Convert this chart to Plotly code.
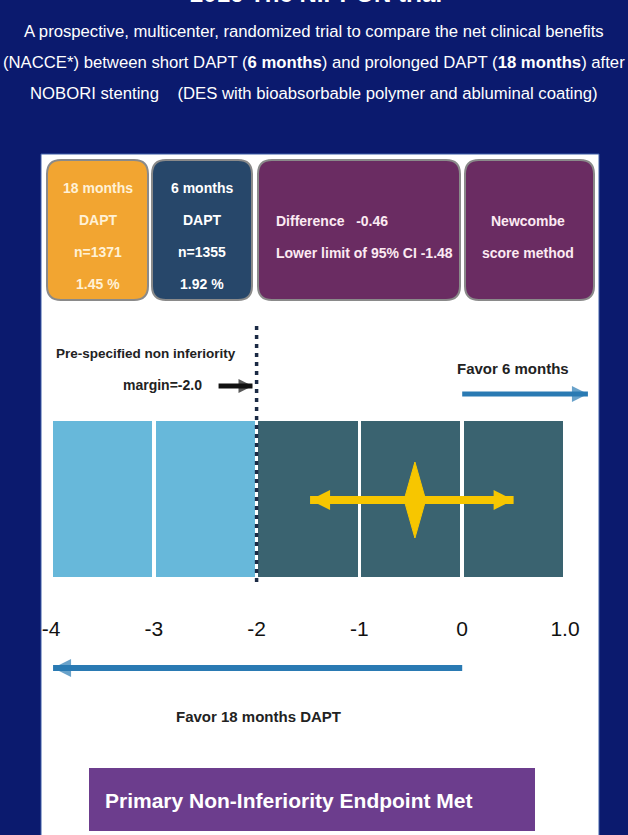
import plotly.graph_objects as go

W, H = 628, 835

# ---------------- data ----------------
title_text = "2016 The NIPPON trial"
subtitle_lines = [
    "A prospective, multicenter, randomized trial to compare the net clinical benefits",
    "(NACCE*) between short DAPT (<b>6 months</b>) and prolonged DAPT (<b>18 months</b>) after",
    "NOBORI stenting &nbsp;&nbsp; (DES with bioabsorbable polymer and abluminal coating)",
]
arm_labels = ["18 months", "6 months"]
arm_n = [1371, 1355]
arm_rates = [1.45, 1.92]
difference = -0.46
ci_lower = -1.48
ci_upper = 0.50
ni_margin = -2.0
method_label = ["Newcombe", "score method"]
tick_vals = [-4, -3, -2, -1, 0, 1]
tick_text = ["-4", "-3", "-2", "-1", "0", "1.0"]
cell_left = [-4, -3, -2, -1, 0]
result_text = "Primary Non-Inferiority Endpoint Met"

# ---------------- style ----------------
NAVY = "#0B1A6E"
ORANGE = "#F2A531"
DARKBLUE = "#27476A"
PURPLE = "#6A2C62"
LIGHTBLUE = "#67B8DA"
TEAL = "#3A6370"
YELLOW = "#F7C600"
ARROWBLUE = "#2A7AB3"
BANNER = "#6C3D8D"
FONT = "Liberation Sans, Arial, sans-serif"

# axis mapping: x=-4 at px 51, x=1 at px 565
px_per_unit = (565 - 51) / 5.0
x_min = -4 - 51 / px_per_unit
x_max = 1 + (W - 565) / px_per_unit


def X(px):
    return px / W


def rrect(x0, y0, x1, y1, r):
    rx = r / W
    a, b = X(x0), X(x1)
    return (f"M{a+rx},{y0} L{b-rx},{y0} Q{b},{y0} {b},{y0+r} L{b},{y1-r} Q{b},{y1} {b-rx},{y1} "
            f"L{a+rx},{y1} Q{a},{y1} {a},{y1-r} L{a},{y0+r} Q{a},{y0} {a+rx},{y0} Z")


fig = go.Figure()

shapes = []
# white panel
shapes.append(dict(type="rect", xref="paper", yref="y", x0=X(41), x1=X(599), y0=154, y1=836,
                   fillcolor="white", line=dict(color="#3C5DA8", width=1), layer="below"))
# boxes
boxes = [(47, 148, ORANGE), (152, 252, DARKBLUE), (258, 460, PURPLE), (465, 594, PURPLE)]
for x0, x1, c in boxes:
    shapes.append(dict(type="path", xref="paper", yref="y", path=rrect(x0, 160, x1, 300, 14),
                       fillcolor=c, line=dict(color="#8A8A8A", width=2), layer="below"))
# banner
shapes.append(dict(type="rect", xref="paper", yref="y", x0=X(89), x1=X(535), y0=768, y1=831,
                   fillcolor=BANNER, line=dict(width=0), layer="below"))

# cells
cell_colors = [LIGHTBLUE if l < ni_margin else TEAL for l in cell_left]
fig.add_trace(go.Bar(x=[l + 0.5 for l in cell_left], y=[156] * len(cell_left), base=[421] * len(cell_left),
                     width=0.965, marker=dict(color=cell_colors, line=dict(width=0)),
                     hoverinfo="skip", showlegend=False))

# margin dotted line
fig.add_trace(go.Scatter(x=[ni_margin, ni_margin], y=[326, 587], mode="lines",
                         line=dict(color="#1B2A44", width=3.5, dash="4px,5px"),
                         hoverinfo="skip", showlegend=False))

# CI line with arrowheads
fig.add_trace(go.Scatter(x=[ci_lower, ci_upper], y=[500, 500], mode="lines+markers",
                         line=dict(color=YELLOW, width=8),
                         marker=dict(symbol=["arrow-left", "arrow-right"], size=20, color=YELLOW,
                                     line=dict(width=0)),
                         hoverinfo="skip", showlegend=False))
# diamond for point estimate
dw = 0.105
fig.add_trace(go.Scatter(x=[difference - dw, difference, difference + dw, difference, difference - dw],
                         y=[500, 462, 500, 538, 500], mode="lines", fill="toself",
                         fillcolor=YELLOW, line=dict(color=YELLOW, width=1),
                         hoverinfo="skip", showlegend=False))

# direction arrows
fig.add_trace(go.Scatter(x=[0, x_max - 0.39], y=[394, 394], mode="lines+markers",
                         line=dict(color=ARROWBLUE, width=5),
                         marker=dict(symbol=["circle", "arrow-right"], size=[0, 16], color=ARROWBLUE,
                                     line=dict(width=0)),
                         hoverinfo="skip", showlegend=False))
fig.add_trace(go.Scatter(x=[0, tick_vals[0] + 0.02], y=[668, 668], mode="lines+markers",
                         line=dict(color=ARROWBLUE, width=6),
                         marker=dict(symbol=["circle", "arrow-left"], size=[0, 18], color=ARROWBLUE,
                                     line=dict(width=0)),
                         hoverinfo="skip", showlegend=False))
fig.add_trace(go.Scatter(x=[ni_margin - 0.37, ni_margin - 0.04], y=[386, 386], mode="lines+markers",
                         line=dict(color="#111111", width=5),
                         marker=dict(symbol=["circle", "arrow-right"], size=[0, 14], color="#111111",
                                     line=dict(width=0)),
                         hoverinfo="skip", showlegend=False))


def txt(text, px, py, size, color, bold=True, anchor="center"):
    return dict(text=f"<b>{text}</b>" if bold else text, x=X(px), y=py, xref="paper", yref="y",
                xanchor=anchor, yanchor="middle", showarrow=False,
                font=dict(family=FONT, size=size, color=color))


ann = []
# title (cut off at top edge as in the source)
t = txt(title_text, 316, 9, 24, "white")
t["yanchor"] = "bottom"
ann.append(t)
for i, line in enumerate(subtitle_lines):
    ann.append(txt(line, 314, 31 + i * 31, 16.7, "white", bold=False))

line_y = [188, 220, 252, 284]
box_centers = [98, 202]
box_text_colors = ["#FFF1D6", "#FFFFFF"]
for k in range(2):
    lines = [arm_labels[k], "DAPT", f"n={arm_n[k]}", f"{arm_rates[k]:.2f} %"]
    for j, s in enumerate(lines):
        ann.append(txt(s, box_centers[k], line_y[j], 14, box_text_colors[k]))
diff_lines = [f"Difference &nbsp; {difference:.2f}", f"Lower limit of 95% CI {ci_lower:.2f}"]
for j, s in enumerate(diff_lines):
    ann.append(txt(s, 274, [221, 253][j], 14, "#FCEAF2", anchor="left"))
for j, s in enumerate(method_label):
    ann.append(txt(s, 528, [221, 253][j], 14, "#FCEAF2"))

ann.append(txt("Pre-specified non inferiority", 146, 353, 13.5, "#222222"))
ann.append(txt("margin=-2.0", 162, 385, 14, "#222222"))
ann.append(txt("Favor 6 months", 513, 368, 15, "#222222"))
ann.append(txt("Favor 18 months DAPT", 258, 716, 15, "#222222"))
ann.append(txt(result_text, 103, 800, 21, "white", anchor="left"))

fig.update_layout(
    width=W, height=H,
    margin=dict(l=0, r=0, t=0, b=0),
    paper_bgcolor=NAVY, plot_bgcolor="rgba(0,0,0,0)",
    shapes=shapes, annotations=ann, showlegend=False, bargap=0,
    xaxis=dict(range=[x_min, x_max], domain=[0, 1], anchor="free", position=1 - 614 / H,
               tickvals=tick_vals, ticktext=tick_text, showgrid=False, zeroline=False, showline=False,
               ticks="", tickfont=dict(family=FONT, size=21, color="#111111"), fixedrange=True),
    yaxis=dict(range=[H, 0], domain=[0, 1], visible=False, showgrid=False, zeroline=False, fixedrange=True),
)

fig.write_html("out.html", config={"displayModeBar": False, "staticPlot": True},
               post_script="document.body.style.margin='0';document.body.style.background='#0B1A6E';")
